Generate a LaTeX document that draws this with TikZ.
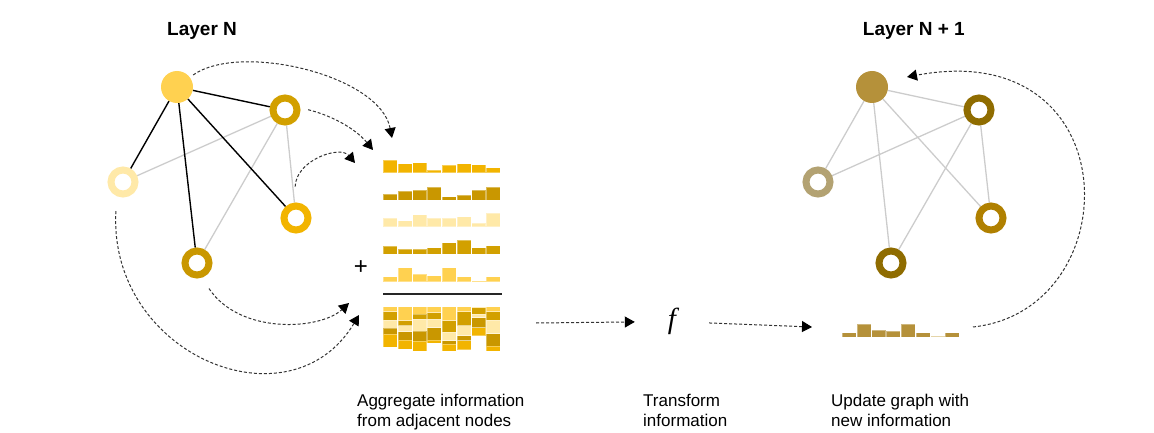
\documentclass[tikz,border=0pt]{standalone}
\usepackage{fontspec}
\setmainfont{Liberation Sans}
\newfontfamily\seriffont{Liberation Serif}
\usetikzlibrary{arrows.meta,backgrounds}

\definecolor{amarillo}{HTML}{FFD150}
\definecolor{naranja}{HTML}{F2B400}
\definecolor{palido}{HTML}{FFE9A8}
\definecolor{oro}{HTML}{D2A000}
\definecolor{ocre}{HTML}{C99700}
\definecolor{bronce}{HTML}{B5913A}
\definecolor{bronceclaro}{HTML}{D8C07C}
\definecolor{oscuro}{HTML}{8F6C00}
\definecolor{arena}{HTML}{B3A272}
\definecolor{cobre}{HTML}{B08000}
\definecolor{arista}{HTML}{CCCCCC}

\begin{document}
\begin{tikzpicture}[
      x=1pt, y=-1pt,
      lleno/.style={circle, fill=#1, minimum size=32pt, inner sep=0pt},
      anillo/.style={circle, draw=#1, fill=white, line width=7pt, minimum size=24pt, inner sep=0pt},
      gris/.style={draw=arista, line width=1.3pt},
      negra/.style={draw=black, line width=1.4pt},
      flujo/.style={draw=black!80, line width=1pt, dash pattern=on 3pt off 2pt,
        -{Triangle[length=10pt,width=11pt,black]}},
      barra/.style={fill=#1, draw=white, draw opacity=0.35, line width=0.6pt},
      texto/.style={anchor=north west, align=left, inner sep=0pt},
      every node/.style={font=\fontsize{17}{20}\selectfont}
    ]
    \useasboundingbox (0,0) rectangle (1154,433);

    % Titulos
    \node[anchor=base west, inner sep=0pt, font=\fontsize{19}{22}\selectfont\bfseries] (capaN) at (167,35.7) {Layer N};
    \node[anchor=base west, inner sep=0pt, font=\fontsize{19}{22}\selectfont\bfseries] (capaM) at (862.7,35.7) {Layer N + 1};

    % Grafo capa N
    \node[lleno=amarillo] (n1) at (177,87) {};
    \node[anillo=oro] (n2) at (285,110) {};
    \node[anillo=palido] (n3) at (123,182) {};
    \node[anillo=naranja] (n4) at (296,218) {};
    \node[anillo=ocre] (n5) at (197,263) {};

    % Grafo capa N + 1
    \node[lleno=bronce] (m1) at (872,87) {};
    \node[anillo=oscuro] (m2) at (979,110) {};
    \node[anillo=arena] (m3) at (818,182) {};
    \node[anillo=cobre] (m4) at (991,218) {};
    \node[anillo=oscuro] (m5) at (891,263) {};

    % Aristas
    \begin{scope}[on background layer]
      \foreach \a/\b in {n3/n2, n2/n5, n2/n4}
        \draw[gris] (\a) -- (\b);
      \foreach \a/\b in {n1/n2, n1/n3, n1/n5, n1/n4}
        \draw[negra] (\a) -- (\b);
      \foreach \a/\b in {m1/m2, m1/m3, m1/m5, m1/m4, m3/m2, m2/m5, m2/m4}
        \draw[gris] (\a) -- (\b);
    \end{scope}

    % Mensajes de los vecinos y su suma
    \foreach \ra/\rb/\rc/\rd/\re [count=\k from 0] in
        {12.7/6/8.3/8.3/5, 9/8.7/6/5/14, 10/10/12/5/7.3, 2.7/12.7/8.3/6.7/6,
         7.3/3.3/8.3/11.7/14, 9/5/10/14/5, 8/10/3.3/6.7/1, 5/12.7/13.3/8.7/5} {
      \pgfmathsetmacro\xcol{383.3+14.7*\k}
      \draw[barra=naranja] (\xcol,172.7) rectangle ++(14,-\ra);
      \draw[barra=ocre] (\xcol,200) rectangle ++(14,-\rb);
      \draw[barra=palido] (\xcol,226.7) rectangle ++(14,-\rc);
      \draw[barra=oro] (\xcol,254.3) rectangle ++(14,-\rd);
      \draw[barra=amarillo] (\xcol,281.7) rectangle ++(14,-\re);
      \pgfmathsetmacro\ya{306.7+\re}
      \pgfmathsetmacro\yb{\ya+\rd}
      \pgfmathsetmacro\yc{\yb+\rc}
      \pgfmathsetmacro\yd{\yc+\rb}
      \draw[barra=amarillo] (\xcol,306.7) rectangle ++(14,\re);
      \draw[barra=oro] (\xcol,\ya) rectangle ++(14,\rd);
      \draw[barra=palido] (\xcol,\yb) rectangle ++(14,\rc);
      \draw[barra=ocre] (\xcol,\yc) rectangle ++(14,\rb);
      \draw[barra=naranja] (\xcol,\yd) rectangle ++(14,\ra);
    }
    \node[font=\fontsize{24}{24}\selectfont] (mas) at (361,268) {+};
    \draw[line width=1.2pt, black!85] (383,294) -- (502,294);

    % Vector actualizado
    \foreach \h/\c [count=\k from 0] in
        {4.7/bronce, 13.3/bronce, 7.3/bronce, 6/bronce, 13.3/bronce, 4.7/bronce, 1.3/bronceclaro, 4.7/bronce}
      \draw[barra=\c] (842.3+14.7*\k,337.3) rectangle ++(14,-\h);

    % Funcion
    \node[font=\fontsize{29}{30}\selectfont\seriffont\itshape, minimum width=74pt] (f) at (672,321.5) {f};

    % Puntos libres de las flechas
    \coordinate (agg1) at (392,138);
    \coordinate (agg2) at (373,150);
    \coordinate (agg3) at (355,163);
    \coordinate (agg4) at (349,303);
    \coordinate (agg5) at (359,315);
    \coordinate (aggout) at (536,323);
    \coordinate (updin) at (812,327);
    \coordinate (updout) at (973,327);
    \coordinate (m1in) at (907,77);

    % Flechas
    \draw[flujo, shorten <=4pt] (n1.37) .. controls (240,42) and (380,75) .. (agg1);
    \draw[flujo, shorten <=8pt] (n2.8) .. controls (330,115) and (355,128) .. (agg2);
    \draw[flujo, shorten <=16pt] (n4.95) .. controls (296,160) and (340,145) .. (agg3);
    \draw[flujo, shorten <=13pt] (n5.-72) .. controls (240,335) and (320,330) .. (agg4);
    \draw[flujo, shorten <=15pt] (n3.246) .. controls (108,355) and (290,430) .. (agg5);
    \draw[flujo] (aggout) -- (f);
    \draw[flujo] (f) -- (updin);
    \draw[flujo] (updout) .. controls (1130,310) and (1130,35) .. (m1in);

    % Etiquetas
    \node[texto] (txtagg) at (357,394) {Aggregate information\\from adjacent nodes};
    \node[texto] (txttrans) at (643,394) {Transform\\information};
    \node[texto] (txtupd) at (831,394) {Update graph with\\new information};

  \end{tikzpicture}
\end{document}
